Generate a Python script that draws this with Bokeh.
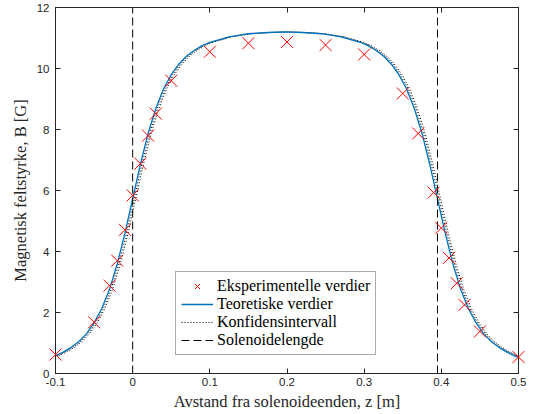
from bokeh.plotting import figure
from bokeh.models import (LinearAxis, FixedTicker, NumeralTickFormatter, Legend,
                          LegendItem, Range1d, ColumnDataSource)
from bokeh.embed import file_html
from bokeh.resources import INLINE

# ---------------- data ----------------
z_meas = [-0.1, -0.05, -0.03, -0.02, -0.01, 0.0, 0.01, 0.02, 0.03, 0.05, 0.1, 0.15,
          0.2, 0.25, 0.3, 0.35, 0.37, 0.39, 0.4, 0.41, 0.42, 0.43, 0.45, 0.5]
B_meas = [0.62, 1.68, 2.88, 3.70, 4.71, 5.84, 6.88, 7.80, 8.52, 9.60, 10.55, 10.83,
          10.87, 10.77, 10.46, 9.18, 7.87, 5.93, 4.77, 3.79, 2.96, 2.25, 1.38, 0.54]

z_theory = [-0.1, -0.09, -0.08, -0.07, -0.06, -0.05, -0.04, -0.03, -0.02, -0.01, 0.0,
            0.01, 0.02, 0.03, 0.04, 0.05, 0.06, 0.07, 0.08, 0.09, 0.1, 0.125, 0.15,
            0.175, 0.1975, 0.22, 0.245, 0.27, 0.295, 0.305, 0.315, 0.325, 0.335,
            0.345, 0.355, 0.365, 0.375, 0.385, 0.395, 0.405, 0.415, 0.425, 0.435,
            0.445, 0.455, 0.465, 0.475, 0.485, 0.495, 0.5]
B_theory = [0.58, 0.70, 0.85, 1.04, 1.30, 1.66, 2.13, 2.76, 3.59, 4.60, 5.73,
            6.86, 7.87, 8.69, 9.33, 9.80, 10.15, 10.41, 10.60, 10.75, 10.86, 11.04, 11.14,
            11.18, 11.20, 11.18, 11.14, 11.04, 10.86, 10.75, 10.60, 10.41, 10.15,
            9.80, 9.33, 8.69, 7.87, 6.86, 5.73, 4.60, 3.59, 2.76, 2.13,
            1.66, 1.30, 1.04, 0.85, 0.70, 0.58, 0.53]

z_ci_a = [-0.098, -0.088, -0.078, -0.068, -0.058, -0.048, -0.038, -0.028, -0.018, -0.008, 0.002,
          0.012, 0.022, 0.032, 0.042, 0.052, 0.062, 0.072, 0.082, 0.092, 0.102, 0.127, 0.152,
          0.177, 0.1995, 0.222, 0.247, 0.272, 0.297, 0.307, 0.317, 0.327, 0.337,
          0.347, 0.357, 0.367, 0.377, 0.387, 0.397, 0.407, 0.417, 0.427, 0.437,
          0.447, 0.457, 0.467, 0.477, 0.487, 0.497, 0.502]
z_ci_b = [-0.096, -0.086, -0.076, -0.066, -0.056, -0.046, -0.036, -0.026, -0.016, -0.006, 0.004,
          0.014, 0.024, 0.034, 0.044, 0.054, 0.064, 0.074, 0.084, 0.094, 0.104, 0.129, 0.154,
          0.179, 0.2015, 0.224, 0.249, 0.274, 0.299, 0.309, 0.319, 0.329, 0.339,
          0.349, 0.359, 0.369, 0.379, 0.389, 0.399, 0.409, 0.419, 0.429, 0.439,
          0.449, 0.459, 0.469, 0.479, 0.489, 0.499, 0.504]
B_ci = B_theory

solenoid_ends = [0.0, 0.395]
solenoid_y = [0, 12]

x_ticks = [-0.1, 0, 0.1, 0.2, 0.3, 0.4, 0.5]
y_ticks = [0, 2, 4, 6, 8, 10, 12]

labels = ["Eksperimentelle verdier", "Teoretiske verdier", "Konfidensintervall", "Solenoidelengde"]
x_label = "Avstand fra solenoideenden, z [m]"
y_label = "Magnetisk feltstyrke, B [G]"

# ---------------- figure ----------------
AX = "#262626"
SERIF = "Liberation Serif"
SANS = "Liberation Sans"
RED = "#FF0000"

p = figure(width=535, height=414, output_backend="svg", toolbar_location=None,
           x_range=Range1d(-0.1, 0.5), y_range=Range1d(0, 12),
           min_border_left=55, min_border_right=17, min_border_top=7, min_border_bottom=41)
p.background_fill_color = "white"
p.border_fill_color = "white"
p.outline_line_color = AX
p.outline_line_width = 1
p.xgrid.visible = False
p.ygrid.visible = False

def style_axis(ax, show_labels=True):
    ax.axis_line_color = AX
    ax.major_tick_line_color = AX
    ax.minor_tick_line_color = None
    ax.major_tick_in = 5
    ax.major_tick_out = 0
    ax.major_label_text_font = SANS
    if show_labels:
        ax.major_label_text_color = AX
        ax.major_label_text_font_size = "11.5px"
        ax.major_label_standoff = 4
    else:
        ax.major_label_text_color = None
        ax.major_label_text_font_size = "1px"
        ax.major_label_standoff = 0

xa = p.xaxis[0]
xa.ticker = FixedTicker(ticks=x_ticks)
xa.formatter = NumeralTickFormatter(format="0.[0]")
style_axis(xa)
xa.axis_label = x_label
xa.axis_label_text_font = SERIF
xa.axis_label_text_font_style = "normal"
xa.axis_label_text_font_size = "16.5px"
xa.axis_label_text_color = AX
xa.axis_label_standoff = 3

ya = p.yaxis[0]
ya.ticker = FixedTicker(ticks=y_ticks)
style_axis(ya)
ya.major_label_standoff = 6
ya.axis_label = y_label
ya.axis_label_text_font = SERIF
ya.axis_label_text_font_style = "normal"
ya.axis_label_text_font_size = "16.5px"
ya.axis_label_text_color = AX
ya.axis_label_standoff = 4

top = LinearAxis(ticker=FixedTicker(ticks=x_ticks))
style_axis(top, False)
p.add_layout(top, "above")
right = LinearAxis(ticker=FixedTicker(ticks=y_ticks))
style_axis(right, False)
p.add_layout(right, "right")

# ---------------- glyphs ----------------
r_ci_a = p.line(z_ci_a, B_ci, line_color="black", line_width=1, line_dash="1 2")
r_ci_b = p.line(z_ci_b, B_ci, line_color="black", line_width=1, line_dash="1 2")
r_th = p.line(z_theory, B_theory, line_color="#0072BD", line_width=1.3)
r_sol = []
for zs in solenoid_ends:
    r_sol.append(p.line([zs, zs], solenoid_y, line_color="black", line_width=1,
                        line_dash="8 4"))

meas_src = ColumnDataSource(data=dict(z=z_meas, B=B_meas))
# each red "x" is drawn as two crossing strokes
r_d1 = p.scatter("z", "B", source=meas_src, marker="dash", angle=0.7853981634,
                 size=17, line_color=RED, line_width=1, level="overlay")
r_d2 = p.scatter("z", "B", source=meas_src, marker="dash", angle=-0.7853981634,
                 size=17, line_color=RED, line_width=1, level="overlay")
# legend-only x marker
r_meas = p.scatter("z", "B", source=meas_src, marker="x", size=12,
                   line_color=RED, line_width=1, visible=False)

legend = Legend(items=[
    LegendItem(label=labels[0], renderers=[r_meas]),
    LegendItem(label=labels[1], renderers=[r_th]),
    LegendItem(label=labels[2], renderers=[r_ci_a]),
    LegendItem(label=labels[3], renderers=[r_sol[0]]),
], location=(120, 18))
legend.label_text_font = SERIF
legend.label_text_font_size = "16px"
legend.label_text_color = "black"
legend.border_line_color = "#555555"
legend.border_line_width = 1
legend.background_fill_color = "white"
legend.background_fill_alpha = 1
legend.padding = 5
legend.spacing = 0
legend.margin = 0
legend.glyph_width = 32
legend.glyph_height = 18
legend.label_height = 18
legend.label_standoff = 4
p.add_layout(legend, "center")

open("out.html", "w").write(file_html(p, INLINE))
